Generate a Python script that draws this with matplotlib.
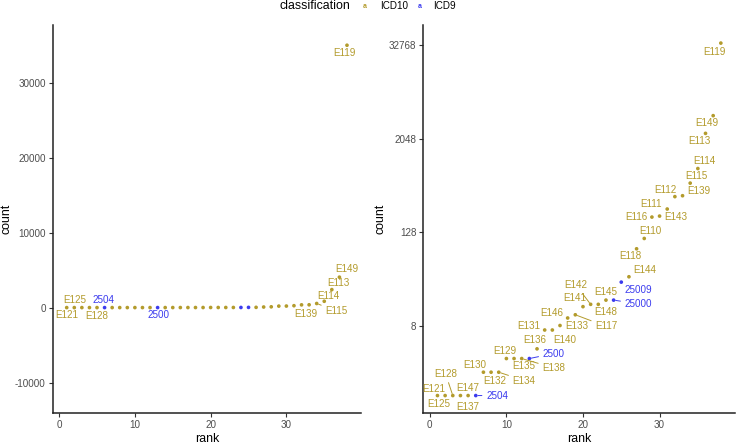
import matplotlib
matplotlib.use('Agg')
import matplotlib.pyplot as plt

plt.rcParams['font.family'] = ['Liberation Sans', 'DejaVu Sans']

ranks = list(range(1, 39))
codes = ['E121', 'E125', 'E128', 'E147', 'E137', '2504', 'E130', 'E132', 'E134',
         'E129', 'E135', 'E138', '2500', 'E136', 'E131', 'E140', 'E133', 'E146',
         'E117', 'E141', 'E142', 'E148', 'E145', '25000', '25009', 'E144', 'E118',
         'E110', 'E116', 'E143', 'E111', 'E112', 'E139', 'E115', 'E114', 'E113',
         'E149', 'E119']
counts = [1, 1, 1, 1, 1, 1, 2, 2, 2, 3, 3, 3, 3, 4, 7, 7, 8, 10, 11, 14, 15, 15,
          17, 17, 29, 34, 78, 106, 200, 206, 254, 367, 377, 548, 845, 2400, 4060,
          35000]
classes = ['ICD10'] * 5 + ['ICD9'] + ['ICD10'] * 6 + ['ICD9'] + ['ICD10'] * 10 + \
          ['ICD9', 'ICD9'] + ['ICD10'] * 13

colors = {'ICD10': '#B39B2C', 'ICD9': '#3B3BEE'}

# label offsets in pixels (dx, dy downwards, draw segment)
right_off = {
    1: (-3.4, -6.7, 0), 2: (-6.3, 8.3, 0), 3: (-7.3, -22, 1), 4: (7.6, -7.3, 0),
    5: (0, 11.3, 0), 6: (21.3, 0, 1), 7: (-8.7, -7.7, 0), 8: (3.7, 8.3, 0),
    9: (25.3, 8.3, 1), 10: (-1.7, -8, 0), 11: (10, 7.7, 0), 12: (32, 9.3, 1),
    13: (24.3, -5, 1), 14: (-2.3, -8.6, 0), 15: (-16, -4.3, 0), 16: (12.3, 9.7, 0),
    17: (16.4, 0.7, 0), 18: (-15.7, -5, 0), 19: (31, 11.7, 1), 20: (-8, -8.3, 0),
    21: (-15, -19.7, 1), 22: (7, 7.3, 0), 23: (-0.3, -8.4, 0), 24: (24.7, 3.7, 1),
    25: (17.2, 7.7, 0), 26: (16.3, -6.3, 0), 27: (-6, 7.7, 0), 28: (6, -7.6, 0),
    29: (-15.3, 0, 0), 30: (16, 0.7, 0), 31: (-16.3, -5.4, 0), 32: (-9.4, -7, 0),
    33: (16, -4.3, 0), 34: (6, -6.7, 0), 35: (6.3, -7.3, 0), 36: (-6, 8, 0),
    37: (-6, 7.7, 0), 38: (-6, 8.7, 0),
}
left_off = {
    1: (0, 7.7, 0), 2: (0, -7.3, 0), 3: (15, 8.4, 0), 6: (-1, -7.3, 0),
    13: (1, 7.7, 0), 33: (-2.8, 8.8, 0), 34: (19.7, 7.5, 1), 35: (3.7, -5.3, 0),
    36: (6.2, -7, 0), 37: (7.3, -8.4, 0), 38: (-3, 8, 0),
}

fig = plt.figure(figsize=(7.36, 4.44), dpi=100)
ax1 = fig.add_axes([52.7 / 736, 30.7 / 444, 308.3 / 736, 388.3 / 444])
ax2 = fig.add_axes([423.3 / 736, 30.7 / 444, 311.7 / 736, 388.3 / 444])

pt_colors = [colors[c] for c in classes]


def draw_labels(ax, offsets):
    for r, (dx, dy, seg) in offsets.items():
        i = r - 1
        col = colors[classes[i]]
        ap = None
        if seg:
            ap = dict(arrowstyle='-', color=col, lw=0.7, shrinkA=1, shrinkB=1.5)
        ax.annotate(codes[i], (ranks[i], counts[i]), xytext=(dx, -dy),
                    textcoords='offset pixels', ha='center', va='center',
                    fontsize=7.1, color=col, arrowprops=ap)


for ax in (ax1, ax2):
    ax.scatter(ranks, counts, s=7, c=pt_colors, linewidths=0, zorder=3)
    ax.set_xlim(-0.85, 39.85)
    ax.set_xticks([0, 10, 20, 30])
    for s in ('top', 'right'):
        ax.spines[s].set_visible(False)
    for s in ('left', 'bottom'):
        ax.spines[s].set_linewidth(1.1)
        ax.spines[s].set_color('#222222')
    ax.tick_params(length=3, width=0.8, color='#333333', labelsize=7.1,
                   labelcolor='#4D4D4D', pad=2)
    ax.set_xlabel('rank', fontsize=8.9, labelpad=2)
    ax.set_ylabel('count', fontsize=8.9, labelpad=1.5)

ax1.set_ylim(-14100, 37700)
ax1.set_yticks([-10000, 0, 10000, 20000, 30000])
ax1.set_yticklabels(['-10000', '0', '10000', '20000', '30000'])
draw_labels(ax1, left_off)

ax2.set_yscale('log', base=2)
ax2.set_ylim(2 ** -0.76, 2 ** 15.87)
ax2.set_yticks([8, 128, 2048, 32768])
ax2.set_yticklabels(['8', '128', '2048', '32768'])
ax2.minorticks_off()
draw_labels(ax2, right_off)

# legend on top
ly = 1 - 6 / 444
fig.text(279 / 736, ly, 'classification', fontsize=8.9, ha='left', va='center')
fig.text(365 / 736, ly, 'a', fontsize=5, ha='center', va='center',
         color=colors['ICD10'], fontweight='bold')
fig.text(380 / 736, ly, 'ICD10', fontsize=7.1, ha='left', va='center')
fig.text(420 / 736, ly, 'a', fontsize=5, ha='center', va='center',
         color=colors['ICD9'], fontweight='bold')
fig.text(433 / 736, ly, 'ICD9', fontsize=7.1, ha='left', va='center')

fig.savefig('out.png', dpi=100)
